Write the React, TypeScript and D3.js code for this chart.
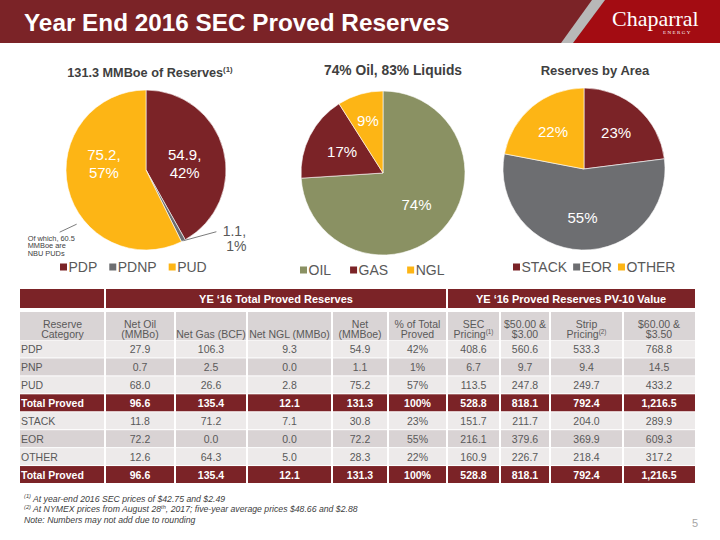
import React from "react";
import * as d3 from "d3";

// ---------------- data ----------------
const reserveCategories = ["PDP", "PDNP", "PUD"];
const reserveValues = [54.9, 1.1, 75.2];
const productCategories = ["OIL", "GAS", "NGL"];
const productValues = [74, 17, 9];
const areaCategories = ["STACK", "EOR", "OTHER"];
const areaValues = [23, 55, 22];

const pageTitle = "Year End 2016 SEC Proved Reserves";
const chartTitles = ["131.3 MMBoe of Reserves[(1)]", "74% Oil, 83% Liquids", "Reserves by Area"];
const pudNote = ["Of which, 60.5", "MMBoe are", "NBU PUDs"];

const groupHeaders = ["YE \u201816 Total Proved Reserves", "YE \u201816 Proved Reserves PV-10 Value"];
const columnHeaders = [
  ["Reserve", "Category"],
  ["Net Oil", "(MMBo)"],
  ["Net Gas (BCF)"],
  ["Net NGL (MMBo)"],
  ["Net", "(MMBoe)"],
  ["% of Total", "Proved"],
  ["SEC", "Pricing[(1)]"],
  ["$50.00 &", "$3.00"],
  ["Strip", "Pricing[(2)]"],
  ["$60.00 &", "$3.50"],
];
const tableCategories = ["PDP", "PNP", "PUD", "Total Proved", "STACK", "EOR", "OTHER", "Total Proved"];
const netOil = [27.9, 0.7, 68.0, 96.6, 11.8, 72.2, 12.6, 96.6];
const netGas = [106.3, 2.5, 26.6, 135.4, 71.2, 0.0, 64.3, 135.4];
const netNgl = [9.3, 0.0, 2.8, 12.1, 7.1, 0.0, 5.0, 12.1];
const netBoe = [54.9, 1.1, 75.2, 131.3, 30.8, 72.2, 28.3, 131.3];
const pctTotal = [42, 1, 57, 100, 23, 55, 22, 100];
const secPricing = [408.6, 6.7, 113.5, 528.8, 151.7, 216.1, 160.9, 528.8];
const pricing5000 = [560.6, 9.7, 247.8, 818.1, 211.7, 379.6, 226.7, 818.1];
const stripPricing = [533.3, 9.4, 249.7, 792.4, 204.0, 369.9, 218.4, 792.4];
const pricing6000 = [768.8, 14.5, 433.2, 1216.5, 289.9, 609.3, 317.2, 1216.5];

const footnotes = [
  "[(1)] At year-end 2016 SEC prices of $42.75 and $2.49",
  "[(2)] At NYMEX prices from August 28[th], 2017; five-year average prices $48.66 and $2.88",
  "Note: Numbers may not add due to rounding",
];
const pageNumber = "5";

// ---------------- style ----------------
const FONT = "'Liberation Sans', Arial, Helvetica, sans-serif";
const DARK_RED = "#7B2327";
const GOLD = "#FDB515";
const GRAY = "#6D6E71";
const OLIVE = "#8A9163";
const TEXT = "#595959";
const TITLE = "#404040";

let _ctx: CanvasRenderingContext2D | null = null;
function measure(t: string, font: string) {
  if (!_ctx) _ctx = document.createElement("canvas").getContext("2d");
  if (!_ctx) return t.length * 7;
  _ctx.font = font;
  return _ctx.measureText(t).width;
}

function Rich(props: any) {
  const { text, x, y, size, supScale = 0.62, anchor = "start", fill = TEXT, weight = "normal", italic = false } = props;
  const parts: string[] = text.split(/(\[[^\]]*\])/).filter((p: string) => p.length > 0);
  const shift = size * 0.38;
  let up = false;
  return (
    <text x={x} y={y} fontSize={size} textAnchor={anchor} fill={fill} fontWeight={weight} fontStyle={italic ? "italic" : "normal"}>
      {parts.map((p, i) => {
        if (p.startsWith("[")) {
          const dy = up ? 0 : -shift;
          up = true;
          return (
            <tspan key={i} dy={dy} fontSize={size * supScale}>
              {p.slice(1, -1)}
            </tspan>
          );
        }
        const dy = up ? shift : 0;
        up = false;
        return (
          <tspan key={i} dy={dy}>
            {p}
          </tspan>
        );
      })}
    </text>
  );
}

function polar(cx: number, cy: number, r: number, a: number): [number, number] {
  return [cx + r * Math.sin(a), cy - r * Math.cos(a)];
}

function Legend(props: any) {
  const { items, colors, x, y, gap } = props;
  let cur = x;
  return (
    <g>
      {items.map((it: string, i: number) => {
        const sx = cur;
        const w = measure(it, `14px ${FONT}`);
        cur = sx + 8.5 + w + gap;
        return (
          <g key={i}>
            <rect x={sx} y={y - 8.5} width={7} height={7} fill={colors[i]} />
            <text x={sx + 8.5} y={y} fontSize={14} fill={TEXT}>
              {it}
            </text>
          </g>
        );
      })}
    </g>
  );
}

function PieSlices(props: any) {
  const { cx, cy, r, values, colors } = props;
  const arcs = d3.pie<number>().sort(null).value((d) => d)(values);
  const arcGen = d3.arc<d3.PieArcDatum<number>>().innerRadius(0).outerRadius(r);
  return (
    <g transform={`translate(${cx},${cy})`}>
      {arcs.map((a, i) => (
        <path key={i} d={arcGen(a) || ""} fill={colors[i]} stroke="#ffffff" strokeWidth={0.6} />
      ))}
    </g>
  );
}

function insideLabel(cx: number, cy: number, a: d3.PieArcDatum<number>, lr: number, lines: string[], key: string, dy = 0) {
  const mid = (a.startAngle + a.endAngle) / 2;
  const [x, y0] = polar(cx, cy, lr, mid);
  const y = y0 + dy;
  if (lines.length === 1) {
    return (
      <text key={key} x={x} y={y + 5.3} fontSize={15} fill="#ffffff" textAnchor="middle">
        {lines[0]}
      </text>
    );
  }
  return (
    <g key={key}>
      <text x={x} y={y - 3.5} fontSize={15} fill="#ffffff" textAnchor="middle">
        {lines[0]}
      </text>
      <text x={x} y={y + 14.5} fontSize={15} fill="#ffffff" textAnchor="middle">
        {lines[1]}
      </text>
    </g>
  );
}

export default function App() {
  // ---- pie 1 ----
  const p1 = { cx: 146, cy: 170, r: 80 };
  const p1Colors = [DARK_RED, GRAY, GOLD];
  const p1Total = d3.sum(reserveValues);
  const p1Arcs = d3.pie<number>().sort(null).value((d) => d)(reserveValues);
  const f1 = d3.format(".1f");
  const p1Lines = reserveValues.map((v) => [f1(v) + ",", Math.round((v / p1Total) * 100) + "%"]);
  const pdnpMid = (p1Arcs[1].startAngle + p1Arcs[1].endAngle) / 2;
  const [ls0x, ls0y] = polar(p1.cx, p1.cy, p1.r, pdnpMid);
  const leaderEnd = [ls0x + 33, ls0y - 9];
  const noteEnd = polar(p1.cx, p1.cy, p1.r * 1.1, (232 * Math.PI) / 180);
  const noteStart = [noteEnd[0] - 17, noteEnd[1] + 8];

  // ---- pie 2 ----
  const p2 = { cx: 383, cy: 173, r: 82 };
  const p2Colors = [OLIVE, DARK_RED, GOLD];
  const p2Arcs = d3.pie<number>().sort(null).value((d) => d)(productValues);

  // ---- pie 3 ----
  const p3 = { cx: 584, cy: 169, r: 81 };
  const p3Colors = [DARK_RED, GRAY, GOLD];
  const p3Arcs = d3.pie<number>().sort(null).value((d) => d)(areaValues);

  // ---- table ----
  const colEdges = [20, 105, 175, 247, 332, 388, 447, 500, 550, 623, 695];
  const columns: (string | number)[][] = [
    tableCategories,
    netOil,
    netGas,
    netNgl,
    netBoe,
    pctTotal,
    secPricing,
    pricing5000,
    stripPricing,
    pricing6000,
  ];
  const fmtNum = d3.format(",.1f");
  const fmtCell = (j: number, v: string | number) =>
    j === 0 ? String(v) : j === 5 ? `${v}%` : fmtNum(v as number);
  const rowScale = d3.scaleBand<number>().domain(d3.range(tableCategories.length)).range([340, 483.5]);
  const bw = rowScale.bandwidth();
  let groupPos = 0;
  const rowInfo = tableCategories.map((c) => {
    const total = c.startsWith("Total");
    const info = { total, alt: !total && groupPos % 2 === 1 };
    groupPos = total ? 0 : groupPos + 1;
    return info;
  });
  const colCenter = (j: number) => (colEdges[j] + colEdges[j + 1]) / 2;
  const cellX = (j: number) => colEdges[j] + (j > 0 ? 1 : 0);
  const cellW = (j: number) => colEdges[j + 1] - colEdges[j] - (j > 0 ? 1 : 0) - (j < 9 ? 1 : 0);
  const groupSpans = [
    [colEdges[1], colEdges[6]],
    [colEdges[6], colEdges[10]],
  ];

  return (
    <svg
      width={720}
      height={540}
      viewBox="0 0 720 540"
      style={{ position: "absolute", left: 0, top: 0, background: "#ffffff" }}
      fontFamily={FONT}
    >
      <rect x={0} y={0} width={720} height={540} fill="#ffffff" />
      {/* header band */}
      <rect x={0} y={0} width={720} height={43} fill={DARK_RED} />
      <polygon points="605,0 720,0 720,43 573,43" fill="#A30C12" />
      <polygon points="592,0 605,0 573,43 561,43" fill="#B8B8B8" />
      <text x={24} y={30.5} fontSize={24.3} fontWeight="bold" fill="#ffffff">
        {pageTitle}
      </text>
      <text x={612} y={26} fontSize={22} fill="#ffffff" fontFamily="'Liberation Serif', 'DejaVu Serif', serif">
        Chaparral
      </text>
      <text
        x={663}
        y={33.5}
        fontSize={5}
        fill="#ffffff"
        letterSpacing={1.4}
        fontFamily="'Liberation Serif', 'DejaVu Serif', serif"
      >
        ENERGY
      </text>

      {/* chart titles */}
      <Rich text={chartTitles[0]} x={150} y={76.5} size={12.7} weight="bold" fill={TITLE} anchor="middle" />
      <Rich text={chartTitles[1]} x={393} y={74.5} size={13.8} weight="bold" fill={TITLE} anchor="middle" />
      <Rich text={chartTitles[2]} x={595} y={75} size={13} weight="bold" fill={TITLE} anchor="middle" />

      {/* pie 1 */}
      <PieSlices cx={p1.cx} cy={p1.cy} r={p1.r} values={reserveValues} colors={p1Colors} />
      {insideLabel(p1.cx, p1.cy, p1Arcs[0], p1.r * 0.5, p1Lines[0], "l10", 4)}
      {insideLabel(p1.cx, p1.cy, p1Arcs[2], p1.r * 0.54, p1Lines[2], "l12", -16)}
      <line x1={ls0x} y1={ls0y} x2={leaderEnd[0]} y2={leaderEnd[1]} stroke={TEXT} strokeWidth={0.8} />
      <text x={leaderEnd[0] + 18} y={leaderEnd[1] + 4.5} fontSize={14} fill={TEXT} textAnchor="middle">
        {p1Lines[1][0]}
      </text>
      <text x={leaderEnd[0] + 20} y={leaderEnd[1] + 19} fontSize={14} fill={TEXT} textAnchor="middle">
        {p1Lines[1][1]}
      </text>
      <line x1={noteStart[0]} y1={noteStart[1]} x2={noteEnd[0]} y2={noteEnd[1]} stroke={TEXT} strokeWidth={0.8} />
      {pudNote.map((t, i) => (
        <text key={i} x={noteStart[0] - 32} y={noteStart[1] + 8.5 + i * 7.8} fontSize={7.4} fill={TITLE}>
          {t}
        </text>
      ))}
      <Legend items={reserveCategories} colors={p1Colors} x={60} y={272} gap={12} />

      {/* pie 2 */}
      <PieSlices cx={p2.cx} cy={p2.cy} r={p2.r} values={productValues} colors={p2Colors} />
      {p2Arcs.map((a, i) =>
        insideLabel(p2.cx, p2.cy, a, p2.r * (i === 2 ? 0.66 : 0.56), [productValues[i] + "%"], "l2" + i)
      )}
      <Legend items={productCategories} colors={p2Colors} x={300} y={275} gap={19} />

      {/* pie 3 */}
      <PieSlices cx={p3.cx} cy={p3.cy} r={p3.r} values={areaValues} colors={p3Colors} />
      {p3Arcs.map((a, i) => insideLabel(p3.cx, p3.cy, a, p3.r * 0.6, [areaValues[i] + "%"], "l3" + i))}
      <Legend items={areaCategories} colors={p3Colors} x={513} y={272} gap={6} />

      {/* table: group header */}
      <rect x={colEdges[0]} y={289} width={colEdges[1] - colEdges[0] - 1} height={19} fill={DARK_RED} />
      {groupSpans.map((s, i) => (
        <g key={i}>
          <rect x={s[0] + 1} y={289} width={s[1] - s[0] - (i === 0 ? 2 : 1)} height={19} fill={DARK_RED} />
          <text x={(s[0] + s[1]) / 2} y={302.5} fontSize={11} fontWeight="bold" fill="#ffffff" textAnchor="middle">
            {groupHeaders[i]}
          </text>
        </g>
      ))}

      {/* table: column headers */}
      {columnHeaders.map((lines, j) => (
        <g key={j}>
          <rect x={cellX(j)} y={312} width={cellW(j)} height={28} fill="#D9D4D5" />
          {lines.map((t, k) => (
            <Rich
              key={k}
              text={t}
              x={colCenter(j)}
              y={lines.length === 1 ? 338 : 327.5 + k * 10.8}
              size={10.5}
              supScale={0.6}
              anchor="middle"
              fill={TEXT}
            />
          ))}
        </g>
      ))}

      {/* table: body */}
      {tableCategories.map((_, i) => {
        const y = rowScale(i) as number;
        const info = rowInfo[i];
        const fill = info.total ? DARK_RED : info.alt ? "#D9D3D4" : "#EDEAEA";
        return (
          <g key={i}>
            {columns.map((col, j) => (
              <g key={j}>
                <rect x={cellX(j)} y={y + 0.5} width={cellW(j)} height={bw - 1} fill={fill} />
                <text
                  x={j === 0 ? colEdges[0] + 1 : colCenter(j)}
                  y={y + bw / 2 + 4.5}
                  fontSize={10.5}
                  textAnchor={j === 0 ? "start" : "middle"}
                  fontWeight={info.total ? "bold" : "normal"}
                  fill={info.total ? "#ffffff" : TEXT}
                >
                  {fmtCell(j, col[i])}
                </text>
              </g>
            ))}
          </g>
        );
      })}

      {/* footnotes */}
      {footnotes.map((t, i) => (
        <Rich key={i} text={t} x={24} y={501.5 + i * 10.5} size={8.7} supScale={0.65} italic fill={TITLE} />
      ))}
      <text x={692} y={527} fontSize={11} fill="#A6A6A6">
        {pageNumber}
      </text>
    </svg>
  );
}
